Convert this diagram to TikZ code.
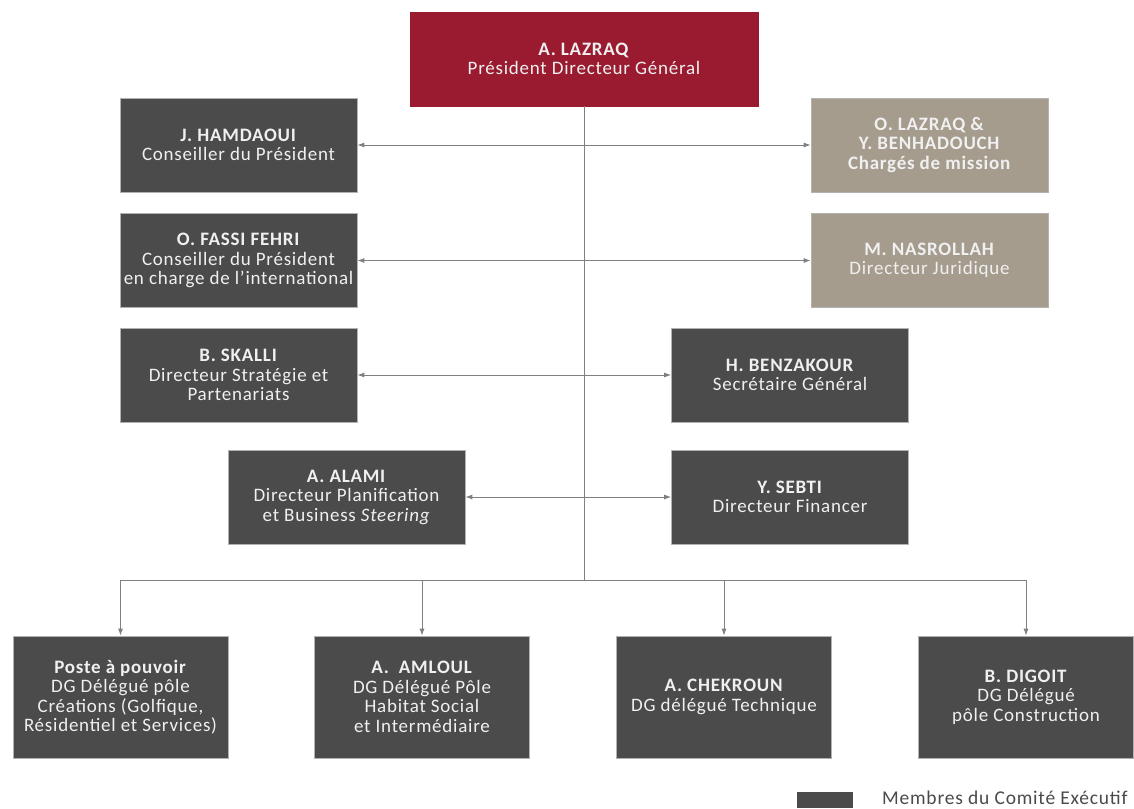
\documentclass[tikz,border=0pt]{standalone}
\usepackage{fontspec}
\setmainfont{Carlito}[LetterSpace=4]
\usetikzlibrary{arrows.meta}
\definecolor{boxgray}{HTML}{4B4B4B}
\definecolor{boxtan}{HTML}{A59C8E}
\definecolor{boxred}{HTML}{9A1B30}
\definecolor{linegray}{HTML}{808080}
\definecolor{notegray}{HTML}{4A4A4A}
\tikzset{
  box/.style={draw=gray!60, line width=0.6pt, text=white!94!black, align=center,
    font=\fontsize{19}{19.5}\selectfont, minimum width=237pt, minimum height=94pt, inner sep=1pt},
  exec/.style={box, fill=boxgray},
  advisor/.style={box, fill=boxtan},
  chief/.style={box, fill=boxred, draw=boxred, minimum width=348pt},
  pole/.style={exec, minimum width=215pt, minimum height=122pt},
  link/.style={draw=linegray, line width=1pt, {Latex[length=7pt,width=5pt]}-{Latex[length=7pt,width=5pt]}},
  feed/.style={draw=linegray, line width=1pt, -{Latex[length=7pt,width=5pt]}},
}
\begin{document}
\begin{tikzpicture}[x=1pt,y=-1pt]
\useasboundingbox (0,0) rectangle (1134,808);
% direction
\node[chief] (pdg) at (584,59) {\textbf{A. LAZRAQ}\\Président Directeur Général};
% left side
\node[exec] (hamdaoui) at (238.5,145) {\textbf{J. HAMDAOUI}\\Conseiller du Président};
\node[exec] (fassi) at (238.5,260.5) {\textbf{O. FASSI FEHRI}\\Conseiller du Président\\en charge de l'international};
\node[exec] (skalli) at (238.5,375) {\textbf{B. SKALLI}\\Directeur Stratégie et\\Partenariats};
\node[exec] (alami) at (346.5,497) {\textbf{A. ALAMI}\\Directeur Planification\\et Business \textit{Steering}};
% right side
\node[advisor] (olazraq) at (929.5,145) {\textbf{O. LAZRAQ \&}\\\textbf{Y. BENHADOUCH}\\\textbf{Chargés de mission}};
\node[advisor] (nasrollah) at (929.5,260.5) {\textbf{M. NASROLLAH}\\Directeur Juridique};
\node[exec] (benzakour) at (790,375) {\textbf{H. BENZAKOUR}\\Secrétaire Général};
\node[exec] (sebti) at (790,497) {\textbf{Y. SEBTI}\\Directeur Financer};
% poles
\node[pole] (poste) at (120.5,697) {\textbf{Poste à pouvoir}\\DG Délégué pôle\\Créations (Golfique,\\Résidentiel et Services)};
\node[pole] (amloul) at (422,697) {\textbf{A.\ \ AMLOUL}\\DG Délégué Pôle\\Habitat Social\\et Intermédiaire};
\node[pole] (chekroun) at (724,697) {\textbf{A. CHEKROUN}\\DG délégué Technique};
\node[pole] (digoit) at (1026,697) {\textbf{B. DIGOIT}\\DG Délégué\\pôle Construction};
% links
\coordinate (bus) at (584,580);
\draw[linegray, line width=1pt] (pdg.south) -- (bus);
\draw[link] (hamdaoui) -- (olazraq);
\draw[link] (fassi) -- (nasrollah);
\draw[link] (skalli) -- (benzakour);
\draw[link] (alami) -- (sebti);
\draw[linegray, line width=1pt] (poste.north |- bus) -- (digoit.north |- bus);
\foreach \p in {poste,amloul,chekroun,digoit}
  \draw[feed] (\p.north |- bus) -- (\p.north);
% legend
\node[fill=boxgray, minimum width=56pt, minimum height=16pt, inner sep=0pt] (legendbox) at (825,800) {};
\node[anchor=west, text=notegray, font=\fontsize{19.5}{20}\selectfont, inner sep=0pt] (legend) at (882,798) {Membres du Comité Exécutif};
\end{tikzpicture}
\end{document}
